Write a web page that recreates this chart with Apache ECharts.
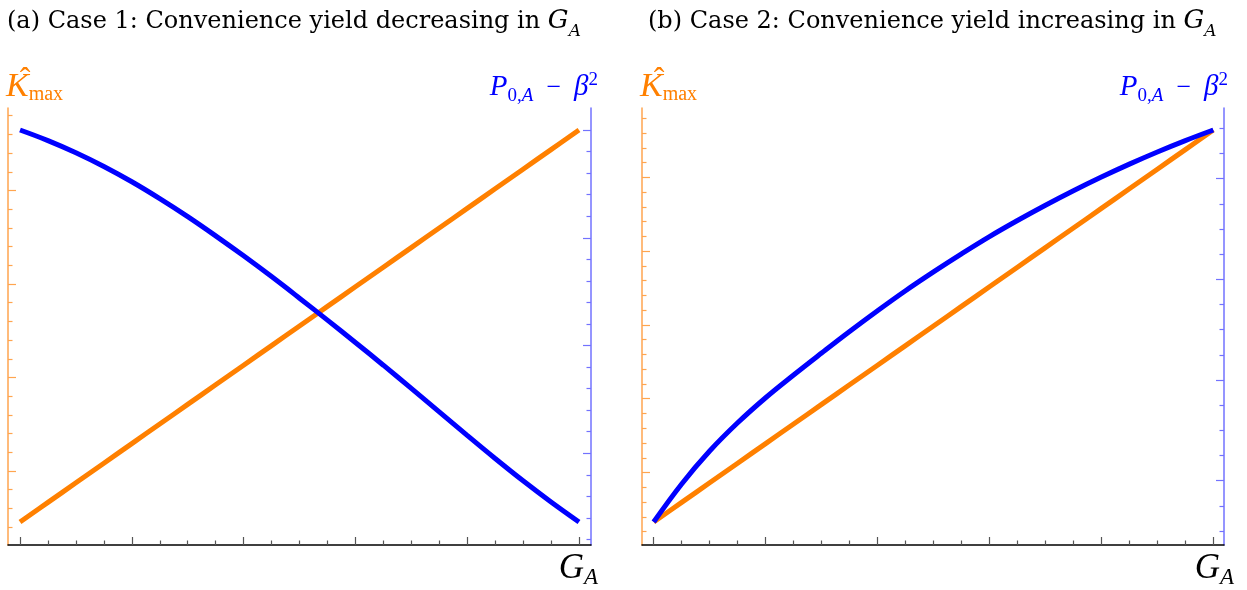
<!DOCTYPE html>
<html>
<head>
<meta charset="utf-8">
<script src="https://cdn.jsdelivr.net/npm/echarts@6/dist/echarts.min.js"></script>
<style>
html, body { margin: 0; padding: 0; background: #fff; }
#chart-container { width: 1247px; height: 590px; }
</style>
</head>
<body>
<div id="chart-container"></div>
<script>
// G_A on a normalised 0..1 scale (no tick labels in the original)
var gA = [0, 0.05, 0.1, 0.15, 0.2, 0.25, 0.3, 0.35, 0.4, 0.45, 0.5, 0.55, 0.6, 0.65, 0.7, 0.75, 0.8, 0.85, 0.9, 0.95, 1];

// case 1: convenience yield decreasing in G_A
var kMaxCase1 = [0, 0.05, 0.1, 0.15, 0.2, 0.25, 0.3, 0.35, 0.4, 0.45, 0.5, 0.55, 0.6, 0.65, 0.7, 0.75, 0.8, 0.85, 0.9, 0.95, 1];
var pCase1 = [1, 0.973, 0.942, 0.907, 0.868, 0.825, 0.779, 0.73, 0.679, 0.626, 0.571, 0.515, 0.458, 0.4, 0.341, 0.281, 0.221, 0.162, 0.105, 0.051, 0];

// case 2: convenience yield increasing in G_A
var kMaxCase2 = [0, 0.05, 0.1, 0.15, 0.2, 0.25, 0.3, 0.35, 0.4, 0.45, 0.5, 0.55, 0.6, 0.65, 0.7, 0.75, 0.8, 0.85, 0.9, 0.95, 1];
var pCase2 = [0, 0.097, 0.181, 0.253, 0.317, 0.375, 0.431, 0.486, 0.539, 0.59, 0.638, 0.684, 0.728, 0.769, 0.808, 0.845, 0.88, 0.913, 0.944, 0.973, 1];

// tick positions
var gMajorTicks = [0, 0.2, 0.4, 0.6, 0.8, 1];
var gMinorTicks = [0.05, 0.1, 0.15, 0.25, 0.3, 0.35, 0.45, 0.5, 0.55, 0.65, 0.7, 0.75, 0.85, 0.9, 0.95];

function evenTicks(start, step, n) {
    var out = [];
    for (var i = 0; i < n; i++) out.push(+(start + i * step).toFixed(4));
    return out;
}
function pick(arr, idx, keep) {
    return arr.filter(function (v, i) { return (idx.indexOf(i) >= 0) === keep; });
}

var kTicks1 = evenTicks(1.0365, -0.0477, 23), kMajor1 = [4, 9, 14, 19];
var pTicks1 = evenTicks(1.0, -0.05497, 20), pMajor1 = [0, 5, 10, 15];
var kTicks2 = evenTicks(1.0298, -0.03765, 29), kMajor2 = [4, 9, 14, 19, 24];
var pTicks2 = evenTicks(1.0043, -0.0642, 17), pMajor2 = [2, 6, 10, 14];

var ORANGE = '#ff8000', BLUE = '#0000ff';
var ORANGE_AXIS = '#ffa54f', BLUE_AXIS = '#7272ff';
var Y_MIN = -0.0587, Y_MAX = 1.0561;

var dom = document.getElementById('chart-container');
var myChart = echarts.init(dom, null, { renderer: 'canvas' });

function xAxes(grid, min, max) {
    var base = {
        type: 'value', gridIndex: grid, min: min, max: max, position: 'bottom',
        axisLabel: { show: false }, splitLine: { show: false }
    };
    return [
        Object.assign({}, base, {
            axisLine: { show: true, onZero: false, lineStyle: { color: '#000', width: 1.5 } },
            axisTick: { show: true, inside: true, length: 8, customValues: gMajorTicks, lineStyle: { color: '#555', width: 1.2 } }
        }),
        Object.assign({}, base, {
            axisLine: { show: false, onZero: false },
            axisTick: { show: true, inside: true, length: 4.5, customValues: gMinorTicks, lineStyle: { color: '#555', width: 1.2 } }
        })
    ];
}

function yAxes(grid, pos, color, ticks, majorIdx) {
    var base = {
        type: 'value', gridIndex: grid, min: Y_MIN, max: Y_MAX, position: pos,
        axisLabel: { show: false }, splitLine: { show: false }
    };
    return [
        Object.assign({}, base, {
            axisLine: { show: true, onZero: false, lineStyle: { color: color, width: 1.5 } },
            axisTick: { show: true, inside: true, length: 8, customValues: pick(ticks, majorIdx, true), lineStyle: { color: color, width: 1.2 } }
        }),
        Object.assign({}, base, {
            axisLine: { show: false, onZero: false },
            axisTick: { show: true, inside: true, length: 4.5, customValues: pick(ticks, majorIdx, false), lineStyle: { color: color, width: 1.2 } }
        })
    ];
}

function pairs(xs, ys) {
    return xs.map(function (x, i) { return [x, ys[i]]; });
}

function curve(xi, yi, data, color) {
    return {
        type: 'line', xAxisIndex: xi, yAxisIndex: yi, data: data,
        showSymbol: false, symbol: 'none', smooth: 0.4, silent: true,
        lineStyle: { color: color, width: 5 }
    };
}

// text pieces laid out left to right (or ending at x when align is right)
var measure = document.createElement('canvas').getContext('2d');
function fontOf(p) {
    return (p.italic ? 'italic ' : '') + p.size + 'px ' + (p.family || '"Liberation Serif"');
}
function textRun(parts, x, baseline, color, align) {
    var widths = parts.map(function (p) {
        measure.font = fontOf(p);
        return measure.measureText(p.t).width;
    });
    var total = widths.reduce(function (a, b) { return a + b; }, 0);
    var cx = align === 'right' ? x - total : x;
    return parts.map(function (p, i) {
        var el = {
            type: 'text', x: cx, y: baseline + (p.dy || 0) - 0.34 * p.size, silent: true,
            style: { text: p.t, font: fontOf(p), fill: color, align: 'left', verticalAlign: 'middle' }
        };
        cx += widths[i];
        return el;
    });
}

function panelLabels(dx, dxP, dxG) {
    var els = [];
    els = els.concat(textRun([
        { t: 'K', size: 34, italic: true },
        { t: 'max', size: 20, dy: 3 }
    ], 6 + dx, 99, ORANGE));
    els.push({
        type: 'text', x: 25 + dx, y: 91 - 0.34 * 32, silent: true,
        style: { text: '\u02C6', font: '32px "Liberation Serif"', fill: ORANGE, align: 'center', verticalAlign: 'middle' }
    });
    els = els.concat(textRun([
        { t: 'P', size: 29, italic: true },
        { t: '0,', size: 19, dy: 5 },
        { t: 'A', size: 19, italic: true, dy: 5 },
        { t: '  \u2212  ', size: 26 },
        { t: '\u03B2', size: 29, italic: true },
        { t: '2', size: 19, dy: -11 }
    ], 598 + dxP, 97, BLUE, 'right'));
    els = els.concat(textRun([
        { t: 'G', size: 35, italic: true },
        { t: 'A', size: 23, italic: true, dy: 5 }
    ], 598 + dxG, 581, '#000', 'right'));
    return els;
}

function title(text, x) {
    return textRun([
        { t: text + ' ', size: 24, family: '"DejaVu Serif"' },
        { t: 'G', size: 26, italic: true, family: '"DejaVu Serif"' },
        { t: 'A', size: 17, italic: true, dy: 7, family: '"DejaVu Serif"' }
    ], x, 30, '#000');
}

var option = {
    animation: false,
    grid: [
        { left: 8, top: 108, width: 583, height: 437 },
        { left: 642, top: 108, width: 582, height: 437 }
    ],
    xAxis: [].concat(xAxes(0, -0.0215, 1.0215), xAxes(1, -0.0209, 1.0191)),
    yAxis: [].concat(
        yAxes(0, 'left', ORANGE_AXIS, kTicks1, kMajor1),
        yAxes(0, 'right', BLUE_AXIS, pTicks1, pMajor1),
        yAxes(1, 'left', ORANGE_AXIS, kTicks2, kMajor2),
        yAxes(1, 'right', BLUE_AXIS, pTicks2, pMajor2)
    ),
    series: [
        curve(0, 0, pairs(gA, kMaxCase1), ORANGE),
        curve(0, 2, pairs(gA, pCase1), BLUE),
        curve(2, 4, pairs(gA, kMaxCase2), ORANGE),
        curve(2, 6, pairs(gA, pCase2), BLUE)
    ],
    graphic: [].concat(
        title('(a) Case 1: Convenience yield decreasing in', 7),
        title('(b) Case 2: Convenience yield increasing in', 648),
        panelLabels(0, 0, 0),
        panelLabels(634, 630, 636)
    )
};

myChart.setOption(option);
window.addEventListener('resize', myChart.resize);
</script>
</body>
</html>
